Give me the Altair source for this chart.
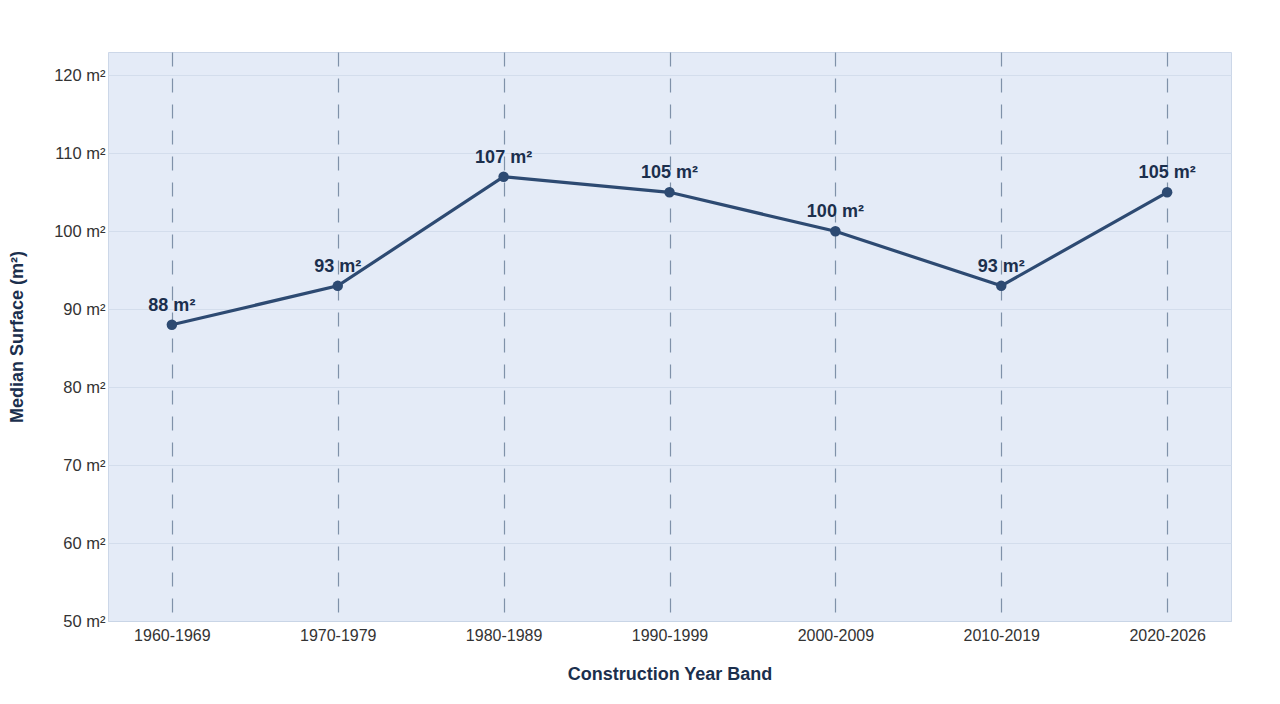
import altair as alt
import pandas as pd

bands = ["1960-1969", "1970-1979", "1980-1989", "1990-1999", "2000-2009", "2010-2019", "2020-2026"]
median_surface = [88, 93, 107, 105, 100, 93, 105]

df = pd.DataFrame({
    "band": bands,
    "surface": median_surface,
    "label": [f"{v} m²" for v in median_surface],
})

FONT = "Liberation Sans"
NAVY = "#2d4a72"
DARK = "#1b2f4d"

x = alt.X(
    "band:N",
    sort=bands,
    scale=alt.Scale(type="point", padding=0.385),
    axis=alt.Axis(
        title="Construction Year Band",
        titleFont=FONT, titleFontSize=18, titleFontWeight="bold", titleColor=DARK,
        titlePadding=22,
        labelFont=FONT, labelFontSize=16, labelColor="#333333", labelPadding=6,
        labelAngle=0,
        ticks=False,
        grid=True, gridColor="#7f91a9", gridDash=[14, 12], gridWidth=1.2,
        domain=True, domainColor="#c9d5e6",
    ),
)
y = alt.Y(
    "surface:Q",
    scale=alt.Scale(domain=[50, 123], nice=False, zero=False),
    axis=alt.Axis(
        title="Median Surface (m²)",
        titleFont=FONT, titleFontSize=18, titleFontWeight="bold", titleColor=DARK,
        titlePadding=27,
        values=[50, 60, 70, 80, 90, 100, 110, 120],
        labelExpr="datum.value + ' m²'",
        labelFont=FONT, labelFontSize=16.5, labelColor="#333333", labelPadding=3,
        ticks=False,
        grid=True, gridColor="#d3ddec", gridWidth=1,
        domain=False,
    ),
)

base = alt.Chart(df)
line = base.mark_line(color=NAVY, strokeWidth=3.2).encode(x=x, y=y)
points = base.mark_point(filled=True, color=NAVY, size=110, opacity=1).encode(x=x, y=y)
labels = base.mark_text(
    font=FONT, fontSize=18, fontWeight="bold", color=DARK, dy=-19, baseline="middle"
).encode(x=x, y=y, text="label:N")

chart = (
    alt.layer(line, points, labels)
    .properties(
        width=1123,
        height=569,
        autosize=alt.AutoSizeParams(type="none"),
        padding={"left": 100, "top": 44, "right": 30, "bottom": 74},
        background="white",
    )
    .configure_view(fill="#e4ebf7", stroke="#ccd7e8")
)

chart.save("out.html", embed_options={"renderer": "svg", "actions": False})
